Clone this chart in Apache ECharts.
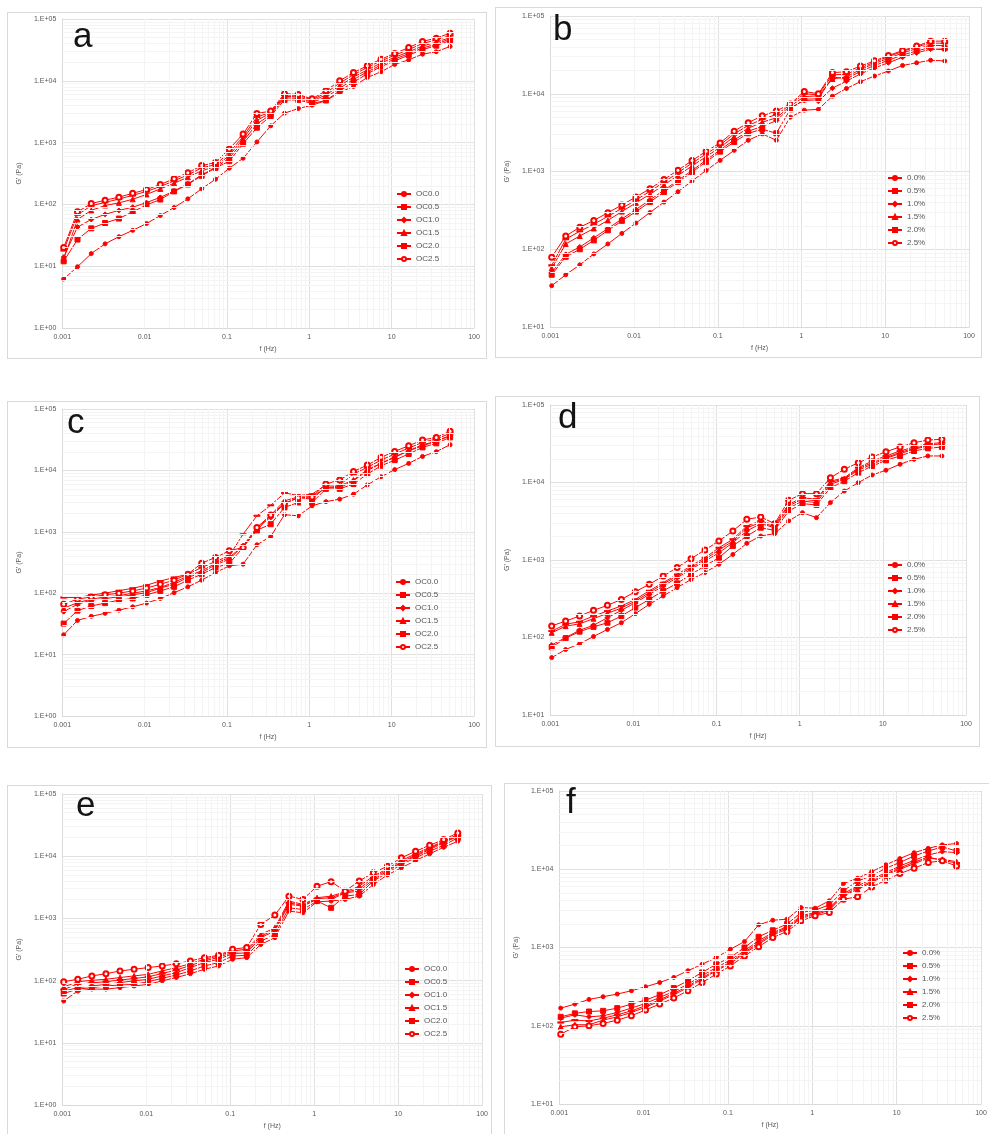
<!DOCTYPE html>
<html>
<head>
<meta charset="utf-8">
<script src="https://cdn.jsdelivr.net/npm/echarts@6/dist/echarts.min.js"></script>
<style>
  body { margin: 0; background: #fff; width: 989px; height: 1134px; overflow: hidden; position: relative; }
  .panel { position: absolute; border: 1px solid #d9d9d9; box-sizing: border-box; background: #fff; }
</style>
</head>
<body>
<div id="pa" class="panel" style="left:7px;top:12px;width:480px;height:347px"></div>
<div id="pb" class="panel" style="left:495px;top:7px;width:487px;height:351px"></div>
<div id="pc" class="panel" style="left:7px;top:401px;width:480px;height:347px"></div>
<div id="pd" class="panel" style="left:495px;top:396px;width:485px;height:351px"></div>
<div id="pe" class="panel" style="left:7px;top:785px;width:485px;height:360px"></div>
<div id="pf" class="panel" style="left:504px;top:783px;width:495px;height:360px"></div>

<script>
// frequency sweep (Hz), shared by all panels
var freq = [0.00104, 0.00153, 0.00225, 0.00331, 0.00487, 0.00716, 0.01054, 0.0155, 0.0228, 0.0335,
  0.0493, 0.0726, 0.1067, 0.157, 0.231, 0.340, 0.500, 0.735, 1.08, 1.59,
  2.34, 3.44, 5.06, 7.44, 10.9, 16.1, 23.7, 34.8, 51.3];

var ocNames = ["OC0.0", "OC0.5", "OC1.0", "OC1.5", "OC2.0", "OC2.5"];
var pctNames = ["0.0%", "0.5%", "1.0%", "1.5%", "2.0%", "2.5%"];

var minorBase = [2, 3, 4, 5, 6, 7, 8, 9];

// panel a  G' (Pa)
var a0 = [6.2, 9.8, 16, 23, 30, 38, 49, 66, 89, 123, 179, 255, 385, 558, 1026, 1870, 2990, 3560, 4040, 4760, 6500, 8100, 11300, 14000, 18400, 21800, 27000, 29500, 36000];
var a1 = [12, 27, 41, 50, 59, 76, 98, 120, 162, 210, 290, 390, 500, 960, 1740, 2700, 4900, 4900, 4300, 4800, 6900, 9500, 13000, 17000, 21000, 26000, 32000, 37000, 45000];
var a2 = [14, 43, 57, 69, 80, 90, 107, 130, 165, 215, 300, 395, 560, 1050, 2000, 2850, 5300, 5200, 4500, 5400, 7600, 10500, 14000, 18000, 22500, 27500, 34000, 39000, 48000];
var a3 = [13, 57, 80, 96, 106, 121, 145, 178, 220, 275, 350, 410, 620, 1150, 2300, 3000, 5600, 5500, 4700, 5900, 8300, 11500, 15000, 19500, 24000, 29500, 36500, 42000, 50000];
var a4 = [18, 68, 95, 108, 122, 140, 162, 195, 240, 300, 390, 440, 690, 1250, 2600, 3100, 5900, 5800, 4900, 6400, 9200, 12500, 16500, 21000, 26000, 32000, 40000, 46000, 54000];
var a5 = [20, 76, 103, 117, 131, 151, 174, 210, 260, 325, 425, 475, 790, 1380, 2950, 3240, 6200, 6000, 5100, 6900, 10000, 13600, 17500, 22400, 27600, 34500, 43400, 49000, 59000];

// panel b
var b0 = [34, 47, 63, 87, 117, 160, 217, 297, 404, 550, 755, 1030, 1390, 1870, 2520, 3050, 2520, 5000, 6150, 6300, 9300, 11700, 14300, 16900, 19600, 23100, 25000, 27000, 26400];
var b1 = [47, 80, 100, 130, 175, 232, 305, 405, 545, 735, 980, 1330, 1800, 2400, 3100, 3500, 3100, 6300, 8500, 8600, 16500, 15500, 19500, 23000, 27000, 31500, 35500, 39500, 38500];
var b2 = [50, 86, 107, 140, 185, 245, 325, 430, 575, 770, 1030, 1400, 1900, 2550, 3300, 3800, 4500, 6600, 8200, 8000, 11800, 14500, 18000, 21500, 25000, 29500, 33500, 37500, 37000];
var b3 = [57, 117, 148, 185, 235, 305, 395, 510, 670, 890, 1180, 1550, 2050, 2800, 3600, 4300, 4900, 6900, 9200, 9400, 15500, 16500, 20500, 24500, 28500, 33500, 38000, 42000, 41500];
var b4 = [62, 135, 170, 210, 265, 335, 430, 555, 730, 965, 1280, 1680, 2200, 3050, 3900, 4700, 5400, 7200, 10000, 9700, 17500, 17800, 21500, 25500, 30000, 35000, 40000, 45000, 44500];
var b5 = [79, 148, 192, 234, 295, 370, 470, 600, 790, 1040, 1380, 1820, 2330, 3300, 4250, 5200, 6000, 7400, 10700, 10000, 18700, 19200, 22700, 26500, 31000, 36000, 41000, 47500, 47500];

// panel c
var c0 = [21, 36, 42, 47, 53, 60, 69, 82, 102, 127, 163, 217, 279, 297, 614, 840, 1900, 1820, 2650, 3100, 3400, 4100, 5800, 7900, 10300, 13000, 16900, 20200, 26200];
var c1 = [32, 52, 62, 69, 77, 82, 94, 109, 127, 163, 204, 262, 305, 556, 1060, 1330, 2500, 3000, 3000, 5000, 5000, 6000, 8700, 11900, 14700, 18500, 23700, 27600, 34500];
var c2 = [50, 66, 77, 82, 87, 94, 102, 121, 140, 180, 217, 290, 358, 590, 1180, 1710, 2900, 3600, 3400, 5400, 5200, 6800, 9900, 13000, 16700, 20900, 26200, 29700, 36700];
var c3 = [57, 70, 80, 87, 91, 100, 109, 124, 150, 190, 231, 305, 382, 590, 1060, 1870, 3200, 3700, 3700, 5200, 5600, 7000, 10300, 13000, 16300, 20900, 25000, 30000, 37000];
var c4 = [85, 85, 93, 100, 110, 120, 135, 158, 180, 204, 262, 328, 405, 915, 1820, 2700, 4300, 3900, 4100, 5800, 5800, 8700, 11200, 14700, 18500, 23100, 28600, 32400, 40100];
var c5 = [66, 80, 87, 94, 100, 109, 121, 140, 163, 204, 308, 382, 490, 556, 1180, 1870, 2900, 3600, 3700, 6000, 7000, 9600, 12200, 16300, 20400, 25200, 31300, 34500, 43300];

// panel d
var d0 = [55, 70, 83, 103, 127, 155, 203, 268, 343, 440, 560, 690, 880, 1180, 1640, 2040, 2190, 3190, 4080, 3520, 5500, 7760, 9950, 12500, 14400, 17200, 19900, 22000, 22000];
var d1 = [75, 98, 119, 137, 155, 189, 243, 310, 400, 500, 650, 840, 1070, 1520, 2040, 2610, 2410, 4290, 5340, 5130, 8570, 10400, 13400, 16300, 19300, 22000, 25500, 27600, 28700];
var d2 = [80, 100, 124, 144, 180, 224, 281, 360, 462, 590, 760, 970, 1240, 1670, 2370, 2940, 2610, 4650, 5770, 5500, 9470, 11000, 14400, 17200, 20500, 23600, 26800, 29600, 30500];
var d3 = [115, 140, 150, 175, 205, 240, 295, 380, 490, 620, 800, 1020, 1350, 1750, 2600, 3050, 2700, 5000, 6100, 5800, 10000, 11200, 15000, 18000, 21000, 24500, 27500, 30500, 31500];
var d4 = [121, 148, 160, 189, 220, 255, 310, 400, 510, 650, 840, 1070, 1440, 1850, 2750, 3190, 2830, 5230, 6370, 6060, 10400, 11500, 15500, 18900, 22000, 25500, 28700, 31700, 32600];
var d5 = [141, 163, 189, 224, 260, 310, 390, 485, 620, 800, 1040, 1350, 1760, 2370, 3350, 3590, 2940, 5890, 7180, 7180, 11500, 14800, 18000, 21300, 25000, 28700, 32600, 35300, 36100];

// panel e
var e0 = [47, 68, 73, 73, 77, 82, 87, 99, 112, 129, 152, 172, 220, 234, 380, 490, 1310, 1230, 1850, 1900, 2020, 2280, 3500, 5000, 6500, 8500, 10900, 13900, 17400];
var e1 = [62, 73, 77, 82, 85, 87, 96, 109, 123, 143, 172, 195, 249, 255, 430, 550, 1480, 1390, 1900, 1480, 2280, 2430, 4000, 5400, 7350, 9400, 12000, 15000, 19700];
var e2 = [68, 77, 82, 87, 93, 99, 105, 119, 134, 162, 195, 220, 271, 280, 490, 627, 1680, 1580, 2020, 2020, 2580, 2740, 4220, 5740, 7820, 10000, 12800, 16400, 20900];
var e3 = [79, 96, 101, 105, 112, 119, 126, 143, 162, 187, 220, 249, 299, 320, 550, 708, 1900, 1680, 2150, 2280, 2680, 3300, 4770, 6300, 8500, 10900, 13900, 17400, 22300];
var e4 = [72, 88, 92, 96, 102, 108, 115, 130, 148, 175, 208, 235, 285, 300, 520, 660, 1780, 1620, 2080, 2150, 2620, 3000, 4500, 6000, 8000, 10400, 13300, 16900, 21500];
var e5 = [96, 105, 119, 129, 143, 152, 162, 172, 187, 207, 234, 255, 320, 340, 800, 1130, 2280, 2020, 3300, 3900, 2740, 4000, 5400, 6900, 9400, 12000, 15000, 18500, 23700];

// panel f
var f0 = [168, 189, 217, 235, 254, 280, 315, 357, 415, 505, 610, 745, 950, 1190, 1950, 2230, 2300, 3240, 3180, 3950, 6560, 7670, 9330, 11400, 13700, 16300, 18500, 20500, 21300];
var f1 = [130, 144, 152, 155, 168, 189, 213, 249, 303, 375, 480, 610, 745, 1000, 1370, 1660, 1990, 2800, 3000, 3510, 5290, 7100, 8220, 10300, 12200, 14800, 17100, 19300, 17100];
var f2 = [125, 138, 130, 134, 148, 168, 193, 230, 274, 340, 435, 555, 690, 910, 1220, 1550, 1840, 2540, 2800, 3180, 4890, 6120, 7450, 9060, 11000, 13000, 15200, 16800, 16300];
var f3 = [97, 103, 103, 118, 130, 148, 172, 208, 249, 308, 395, 505, 625, 840, 1100, 1450, 1710, 2370, 2610, 3000, 4570, 5550, 6760, 8470, 10000, 11800, 13800, 13400, 12500];
var f4 = [110, 118, 115, 125, 138, 155, 180, 215, 260, 320, 410, 520, 650, 870, 1150, 1500, 1780, 2450, 2700, 3100, 4700, 5800, 7000, 8700, 10400, 12300, 14300, 13000, 12000];
var f5 = [78, 97, 100, 107, 118, 134, 159, 189, 226, 280, 357, 457, 580, 780, 1020, 1340, 1600, 2190, 2540, 2800, 4140, 4440, 5940, 7240, 8800, 10300, 12200, 12800, 11000];

var symbols = ["circle", "rect", "diamond", "triangle", "rect", "emptyCircle"];
var symbolSizes = [4, 5, 5, 5, [5, 1.5], 5];

function yLabel(v) {
  var e = Math.round(Math.log10(v));
  return "1.E" + (e < 0 ? "-" : "+") + String(Math.abs(e)).padStart(2, "0");
}

function minorLines(lo, hi) {
  var out = [];
  for (var p = Math.round(Math.log10(lo)); p < Math.round(Math.log10(hi)); p++) {
    minorBase.forEach(function (b) { out.push(b * Math.pow(10, p)); });
  }
  return out;
}

function buildPanel(id, p) {
  var chart = echarts.init(document.getElementById(id));
  var series = p.sets.map(function (vals, i) {
    return {
      name: p.names[i],
      type: "line",
      data: freq.map(function (f, j) { return [f, vals[j]]; }),
      symbol: symbols[i],
      symbolSize: symbolSizes[i],
      showSymbol: true,
      lineStyle: { color: "#ff0000", width: 1 },
      itemStyle: { color: "#ff0000", borderColor: "#ff0000", borderWidth: 1 },
      z: 3
    };
  });
  // minor log grid lines (2..9 of each decade)
  var grid = minorLines(0.001, 100).map(function (v) { return { xAxis: v }; })
    .concat(minorLines(p.yMin, 100000).map(function (v) { return { yAxis: v }; }));
  series.push({
    name: "minor", type: "line", data: [], z: 1, silent: true,
    markLine: {
      silent: true, symbol: "none", animation: false,
      label: { show: false },
      lineStyle: { color: "#f4f4f4", type: "solid", width: 1 },
      data: grid
    }
  });

  chart.setOption({
    animation: false,
    textStyle: { fontFamily: "Liberation Sans, Arial, sans-serif" },
    grid: { left: p.grid[0], top: p.grid[1], width: p.grid[2], height: p.grid[3], containLabel: false },
    graphic: [{
      type: "text", left: p.letter[1], top: p.letter[2], z: 10,
      style: { text: p.letter[0], fontSize: 35, fill: "#141414", fontFamily: "Liberation Sans, Arial, sans-serif" }
    }],
    legend: {
      orient: "vertical", left: p.legend[0], top: p.legend[1], z: 20,
      itemWidth: 14, itemHeight: 5, itemGap: 5,
      textStyle: { fontSize: 8, lineHeight: 8, color: "#555555" },
      data: p.names
    },
    xAxis: {
      type: "log", logBase: 10, min: 0.001, max: 100,
      name: "f (Hz)", nameLocation: "middle", nameGap: 17,
      nameTextStyle: { fontSize: 7, color: "#595959" },
      axisLine: { show: true, lineStyle: { color: "#d9d9d9" } },
      axisTick: { show: false },
      axisLabel: {
        fontSize: 7, color: "#595959", margin: 6,
        formatter: function (v) { return String(+(+v).toPrecision(1)); }
      },
      splitLine: { show: true, lineStyle: { color: "#e0e0e0", width: 1 } }
    },
    yAxis: {
      type: "log", logBase: 10, min: p.yMin, max: 100000,
      name: "G' (Pa)", nameLocation: "middle", nameGap: 34, nameRotate: 90,
      nameTextStyle: { fontSize: 7, color: "#595959" },
      axisLine: { show: true, lineStyle: { color: "#d9d9d9" } },
      axisTick: { show: false },
      axisLabel: { fontSize: 7, color: "#595959", margin: 6, formatter: yLabel },
      splitLine: { show: true, lineStyle: { color: "#e0e0e0", width: 1 } }
    },
    series: series
  });
}

buildPanel("pa", { names: ocNames, sets: [a0, a1, a2, a3, a4, a5], yMin: 1,
  grid: [52, 6, 414, 309], legend: [383, 172], letter: ["a", 65, 7] });
buildPanel("pb", { names: pctNames, sets: [b0, b1, b2, b3, b4, b5], yMin: 10,
  grid: [53, 8, 420, 311], legend: [386, 161], letter: ["b", 57, 5] });
buildPanel("pc", { names: ocNames, sets: [c0, c1, c2, c3, c4, c5], yMin: 1,
  grid: [52, 7, 414, 307], legend: [382, 171], letter: ["c", 59, 4] });
buildPanel("pd", { names: pctNames, sets: [d0, d1, d2, d3, d4, d5], yMin: 10,
  grid: [52, 8, 418, 310], legend: [386, 159], letter: ["d", 62, 4] });
buildPanel("pe", { names: ocNames, sets: [e0, e1, e2, e3, e4, e5], yMin: 1,
  grid: [52, 8, 423, 311], legend: [391, 174], letter: ["e", 68, 3] });
buildPanel("pf", { names: pctNames, sets: [f0, f1, f2, f3, f4, f5], yMin: 10,
  grid: [53, 7, 423, 313], legend: [392, 160], letter: ["f", 61, 2] });
</script>
</body>
</html>
